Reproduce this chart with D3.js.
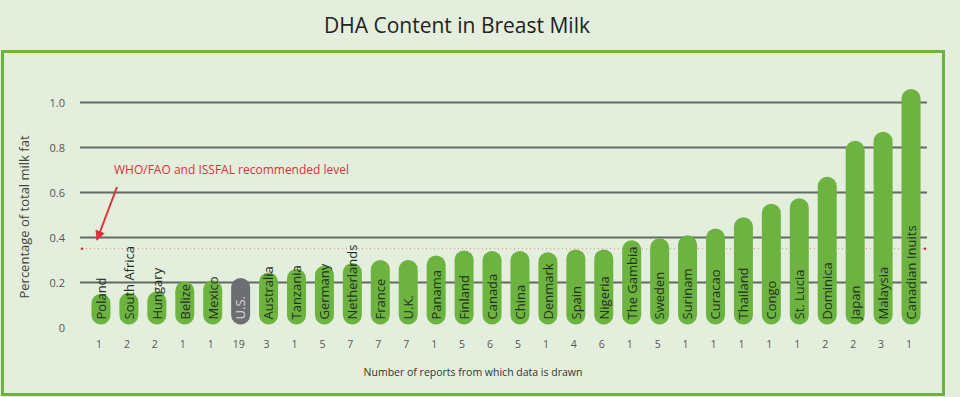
<!DOCTYPE html>
<html>
<head>
<meta charset="utf-8">
<title>DHA Content in Breast Milk</title>
<script src="https://cdn.jsdelivr.net/npm/d3@7"></script>
<style>
    body { margin: 0; background: #e3eedc; }
    #chart-area { width: 960px; height: 397px; }
    text { font-family: "Open Sans", sans-serif; }
</style>
</head>
<body>
<div id="chart-area"></div>
<script>
// Countries in the order they are plotted
var countries = ["Poland", "South Africa", "Hungary", "Belize", "Mexico", "U.S.", "Australia", "Tanzania",
    "Germany", "Netherlands", "France", "U.K.", "Panama", "Finland", "Canada", "China", "Denmark", "Spain",
    "Nigeria", "The Gambia", "Sweden", "Surinam", "Curacao", "Thailand", "Congo", "St. Lucia", "Dominica",
    "Japan", "Malaysia", "Canadian Inuits"];

// DHA, % of total milk fat
var dhaValues = [0.15, 0.155, 0.16, 0.205, 0.21, 0.22, 0.245, 0.26,
    0.275, 0.287, 0.30, 0.30, 0.32, 0.342, 0.34, 0.34, 0.335, 0.347,
    0.347, 0.388, 0.397, 0.41, 0.44, 0.49, 0.55, 0.575, 0.67,
    0.83, 0.87, 1.06];

// Number of reports per country
var reportCounts = [1, 2, 2, 1, 1, 19, 3, 1, 5, 7, 7, 7, 1, 5, 6, 5, 1, 4, 6, 1, 5, 1, 1, 1, 1, 1, 2, 2, 3, 1];

var yTicks = [0, 0.2, 0.4, 0.6, 0.8, 1.0];
var recommendedLevel = 0.35;
var highlightCountry = "U.S.";

BarChart = function (_parentElement) {
    this.parentElement = _parentElement;
    this.data = countries.map(function (c, i) {
        return {country: c, value: dhaValues[i], reports: reportCounts[i]};
    });
    this.initVis();
};

BarChart.prototype.initVis = function () {
    var vis = this;

    vis.width = 960;
    vis.height = 397;

    vis.svg = d3.select("#" + vis.parentElement)
        .append("svg")
        .attr("width", vis.width)
        .attr("height", vis.height);

    // Background and green frame
    vis.svg.append("rect")
        .attr("width", vis.width)
        .attr("height", vis.height)
        .attr("fill", "#e3eedc");

    vis.svg.append("rect")
        .attr("x", 2.5)
        .attr("y", 51.5)
        .attr("width", 941)
        .attr("height", 343)
        .attr("fill", "none")
        .attr("stroke", "#6cb43f")
        .attr("stroke-width", 3);

    vis.svg.append("text")
        .attr("x", 457)
        .attr("y", 33)
        .attr("text-anchor", "middle")
        .style("font-size", "21px")
        .attr("fill", "#222")
        .text("DHA Content in Breast Milk");

    // Scales
    vis.x = d3.scaleBand()
        .domain(countries)
        .range([87, 925]);

    vis.y = d3.scaleLinear()
        .domain([0, 1])
        .range([327.5, 102.5]);

    // Grid lines (drawn under the bars)
    vis.svg.append("g")
        .attr("class", "grid")
        .selectAll("line")
        .data(yTicks.filter(function (d) { return d > 0; }))
        .enter()
        .append("line")
        .attr("x1", 80)
        .attr("x2", 927)
        .attr("y1", function (d) { return vis.y(d); })
        .attr("y2", function (d) { return vis.y(d); })
        .attr("stroke", "#646964")
        .attr("stroke-width", 2);

    vis.svg.append("g")
        .attr("class", "y_axis")
        .selectAll("text")
        .data(yTicks)
        .enter()
        .append("text")
        .attr("x", 65)
        .attr("y", function (d) { return vis.y(d) + 4; })
        .attr("text-anchor", "end")
        .style("font-size", "11px")
        .attr("fill", "#555")
        .text(function (d) { return d === 0 ? "0" : d3.format(".1f")(d); });

    vis.svg.append("text")
        .attr("class", "y_axis_label")
        .attr("transform", "translate(29,217) rotate(-90)")
        .attr("text-anchor", "middle")
        .style("font-size", "13px")
        .attr("fill", "#444")
        .text("Percentage of total milk fat");

    // Recommended level
    vis.svg.append("line")
        .attr("x1", 82)
        .attr("x2", 925)
        .attr("y1", vis.y(recommendedLevel))
        .attr("y2", vis.y(recommendedLevel))
        .attr("stroke", "#d9868a")
        .attr("stroke-width", 1)
        .attr("stroke-dasharray", "1,3");

    vis.svg.selectAll(".level_dot")
        .data([82, 925])
        .enter()
        .append("circle")
        .attr("class", "level_dot")
        .attr("cx", function (d) { return d; })
        .attr("cy", vis.y(recommendedLevel))
        .attr("r", 1.3)
        .attr("fill", "#c0303a");

    vis.svg.append("defs").append("marker")
        .attr("id", "arrowhead")
        .attr("viewBox", "0 0 10 10")
        .attr("refX", 9)
        .attr("refY", 5)
        .attr("markerWidth", 5)
        .attr("markerHeight", 5)
        .attr("markerUnits", "strokeWidth")
        .attr("orient", "auto")
        .append("path")
        .attr("d", "M0,0 L10,5 L0,10 z")
        .attr("fill", "#e0303c");

    vis.svg.append("line")
        .attr("x1", 117)
        .attr("y1", 187)
        .attr("x2", 97)
        .attr("y2", vis.y(0.39))
        .attr("stroke", "#e0303c")
        .attr("stroke-width", 2)
        .attr("marker-end", "url(#arrowhead)");

    vis.svg.append("text")
        .attr("x", 114)
        .attr("y", 174)
        .style("font-size", "12px")
        .attr("fill", "#d2343f")
        .text("WHO/FAO and ISSFAL recommended level");

    // Bars as rounded pills
    var barWidth = 19;

    var bars = vis.svg.selectAll(".bar")
        .data(vis.data)
        .enter()
        .append("g")
        .attr("class", "bar");

    bars.append("rect")
        .attr("x", function (d) { return vis.x(d.country) + vis.x.bandwidth() / 2 - barWidth / 2; })
        .attr("y", function (d) { return vis.y(d.value); })
        .attr("width", barWidth)
        .attr("height", function (d) { return vis.y(0) - vis.y(d.value) - 3; })
        .attr("rx", barWidth / 2)
        .attr("ry", barWidth / 2)
        .attr("fill", function (d) { return d.country === highlightCountry ? "#6d6e72" : "#6cb43f"; });

    bars.append("text")
        .attr("transform", function (d) {
            return "translate(" + (vis.x(d.country) + vis.x.bandwidth() / 2) + "," + (vis.y(0) - 8) + ") rotate(-90)";
        })
        .attr("dy", "0.37em")
        .style("font-size", "13px")
        .attr("fill", function (d) { return d.country === highlightCountry ? "#dcdcdc" : "#24301f"; })
        .text(function (d) { return d.country; });

    // Report counts under the bars
    vis.svg.selectAll(".count")
        .data(vis.data)
        .enter()
        .append("text")
        .attr("class", "count")
        .attr("x", function (d) { return vis.x(d.country) + vis.x.bandwidth() / 2 - 2; })
        .attr("y", 348)
        .attr("text-anchor", "middle")
        .style("font-size", "10.5px")
        .attr("fill", "#555")
        .text(function (d) { return d.reports; });

    vis.svg.append("text")
        .attr("class", "x_axis_label")
        .attr("x", 473)
        .attr("y", 376)
        .attr("text-anchor", "middle")
        .style("font-size", "10.5px")
        .attr("fill", "#333")
        .text("Number of reports from which data is drawn");
};

new BarChart("chart-area");
</script>
</body>
</html>
